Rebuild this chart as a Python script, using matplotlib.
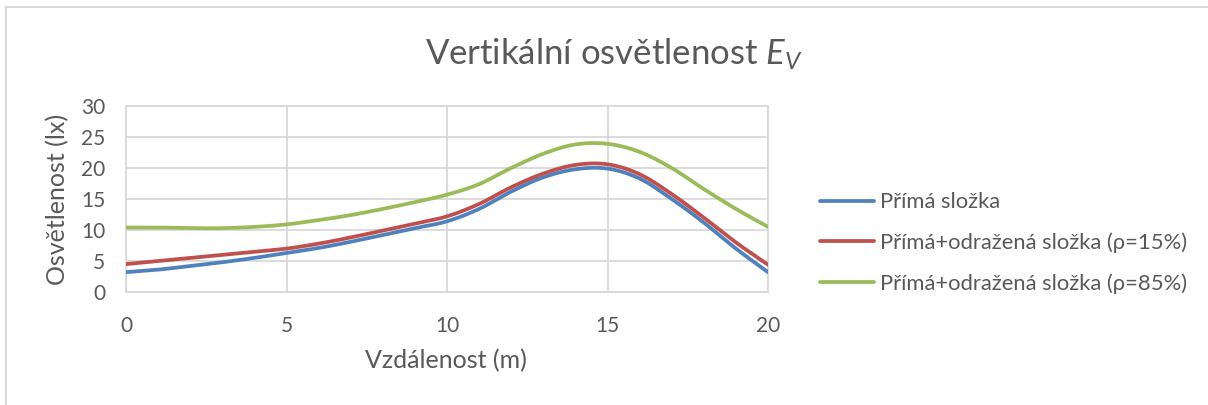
import numpy as np
import matplotlib
matplotlib.use("Agg")
import matplotlib.pyplot as plt
from matplotlib.lines import Line2D

# Distance along the road (m) and vertical illuminance values (lx)
distance = [0, 1, 2, 3, 4, 5, 6, 7, 8, 9, 10, 11, 12, 13, 14, 15, 16, 17, 18, 19, 20]
direct = [3.2, 3.6, 4.2, 4.8, 5.5, 6.3, 7.1, 8.1, 9.2, 10.3, 11.4, 13.4, 16.2, 18.5,
          19.8, 19.9, 18.3, 15.0, 11.2, 7.0, 3.2]
reflected_15 = [4.5, 5.0, 5.5, 6.0, 6.5, 7.0, 7.8, 8.8, 9.9, 11.0, 12.2, 14.2, 16.9, 19.1,
                20.5, 20.6, 19.0, 15.8, 12.0, 8.0, 4.4]
reflected_85 = [10.4, 10.4, 10.3, 10.3, 10.5, 10.9, 11.6, 12.4, 13.4, 14.5, 15.7, 17.4, 20.0,
                22.3, 23.8, 23.9, 22.6, 20.0, 16.6, 13.4, 10.5]

series_labels = ["Přímá složka",
                 "Přímá+odražená složka (ρ=15%)",
                 "Přímá+odražená složka (ρ=85%)"]
series_colors = ["#4F81BD", "#C0504D", "#9BBB59"]

x_ticks = [0, 5, 10, 15, 20]
y_ticks = [0, 5, 10, 15, 20, 25, 30]

TEXT = "#595959"
GRID = "#D9D9D9"

plt.rcParams["font.family"] = ["Lato", "DejaVu Sans"]
plt.rcParams["mathtext.fontset"] = "custom"
plt.rcParams["mathtext.rm"] = "Lato"
plt.rcParams["mathtext.it"] = "Lato:italic"


def smooth(xs, ys, steps=20):
    """Catmull-Rom curve through the points, like a spreadsheet's smoothed line."""
    xs = np.asarray(xs, float)
    ys = np.asarray(ys, float)
    px = np.concatenate([[2 * xs[0] - xs[1]], xs, [2 * xs[-1] - xs[-2]]])
    py = np.concatenate([[2 * ys[0] - ys[1]], ys, [2 * ys[-1] - ys[-2]]])
    out_x, out_y = [], []
    t = np.linspace(0, 1, steps, endpoint=False)
    for i in range(1, len(px) - 2):
        for p, out in ((px, out_x), (py, out_y)):
            p0, p1, p2, p3 = p[i - 1], p[i], p[i + 1], p[i + 2]
            out.extend(0.5 * ((2 * p1) + (-p0 + p2) * t
                              + (2 * p0 - 5 * p1 + 4 * p2 - p3) * t ** 2
                              + (-p0 + 3 * p1 - 3 * p2 + p3) * t ** 3))
    out_x.append(xs[-1])
    out_y.append(ys[-1])
    return np.array(out_x), np.array(out_y)


W, H = 1208, 405
fig = plt.figure(figsize=(W / 100, H / 100), dpi=100)
ax = fig.add_axes([126 / W, 1 - 292 / H, (768 - 126) / W, (292 - 106) / H])

for ys, label, color in zip([direct, reflected_15, reflected_85], series_labels, series_colors):
    sx, sy = smooth(distance, ys)
    ax.plot(sx, sy, color=color, lw=2.7, label=label, solid_capstyle="round", zorder=3)

ax.set_xlim(0, 20)
ax.set_ylim(0, 30)
ax.set_xticks(x_ticks)
ax.set_yticks(y_ticks)
ax.grid(True, color=GRID, lw=1.3)
ax.set_axisbelow(True)
for s in ax.spines.values():
    s.set_color(GRID)
    s.set_linewidth(1.3)
ax.tick_params(length=0, labelsize=15, colors=TEXT)
ax.tick_params(axis="x", pad=17)
ax.tick_params(axis="y", pad=15)
ax.set_xlabel("Vzdálenost (m)", fontsize=18, color=TEXT)
ax.set_ylabel("Osvětlenost (lx)", fontsize=18, color=TEXT)
ax.xaxis.set_label_coords((446 - 126) / (768 - 126), -(361 - 292) / (292 - 106))
ax.xaxis.label.set_va("center")
ax.yaxis.set_label_coords(-(126 - 58) / (768 - 126), 0.5)
ax.yaxis.label.set_va("center")

fig.text(614 / W, 1 - 54 / H, "Vertikální osvětlenost $E_V$",
         ha="center", va="center", fontsize=25, color=TEXT)

handles = [Line2D([0], [0], color=c, lw=2.7, solid_capstyle="round") for c in series_colors]
fig.legend(handles, series_labels, loc="center left",
           bbox_to_anchor=(820 / W, 1 - 243 / H), frameon=False, borderpad=0,
           borderaxespad=0, fontsize=15.8, labelcolor=TEXT, handlelength=2.45,
           handletextpad=0.3, labelspacing=0.92)

# chart frame edges
fig.add_artist(Line2D([6 / W, 6 / W], [0, 1 - 7 / H], color=GRID, lw=1.5,
                      transform=fig.transFigure))
fig.add_artist(Line2D([6 / W, 1207 / W], [1 - 7 / H, 1 - 7 / H], color=GRID,
                      lw=1.5, transform=fig.transFigure))

fig.savefig("out.png", dpi=100, facecolor="white")
